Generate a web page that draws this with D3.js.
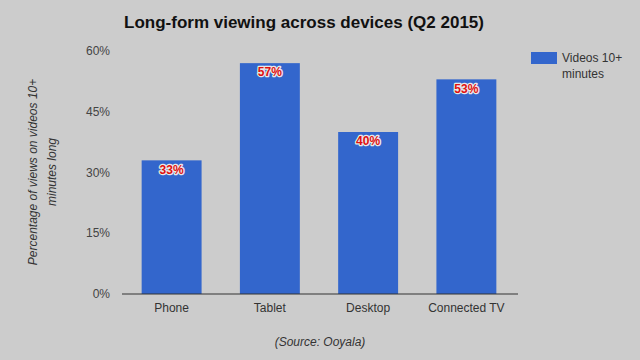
<!DOCTYPE html>
<html><head><meta charset="utf-8">
<script src="https://cdn.jsdelivr.net/npm/d3@7"></script>
<style>body{margin:0;background:#cccccc;}svg{display:block;font-family:"Liberation Sans",Arial,sans-serif;}</style>
</head><body><svg id="c" width="640" height="360"></svg>
<script>
const categories = ["Phone", "Tablet", "Desktop", "Connected TV"];
const values = [33, 57, 40, 53];
const yTicks = [0, 15, 30, 45, 60];
const seriesName = ["Videos 10+", "minutes"];

const svg = d3.select("#c");
svg.append("rect").attr("width",640).attr("height",360).attr("fill","#cccccc");

const x = d3.scaleBand().domain(categories).range([122,516]).paddingInner(0.39).paddingOuter(0.2);
const y = d3.scaleLinear().domain([0,60]).range([294,51]);

svg.append("text").attr("x",304).attr("y",28).attr("text-anchor","middle")
  .attr("font-size",17).attr("font-weight","bold").attr("fill","#111")
  .text("Long-form viewing across devices (Q2 2015)");

// y ticks
svg.append("g").selectAll("text").data(yTicks).join("text")
  .attr("x",110).attr("y",d=>y(d)).attr("dy","0.35em").attr("text-anchor","end")
  .attr("font-size",12).attr("fill","#444").text(d=>d+"%");

// bars
svg.append("g").selectAll("rect").data(values).join("rect")
  .attr("x",(d,i)=>x(categories[i])).attr("width",x.bandwidth())
  .attr("y",d=>y(d)).attr("height",d=>y(0)-y(d)).attr("fill","#3366cc");

// baseline
svg.append("line").attr("x1",122).attr("x2",518).attr("y1",y(0)).attr("y2",y(0))
  .attr("stroke","#333").attr("stroke-width",1);

// value labels
svg.append("g").selectAll("text").data(values).join("text")
  .attr("x",(d,i)=>x(categories[i])+x.bandwidth()/2).attr("y",d=>y(d)+9).attr("dy","0.35em")
  .attr("text-anchor","middle").attr("font-size",12).attr("font-weight","bold")
  .attr("fill","#e01010").attr("stroke","#e8e8e8").attr("stroke-width",2.5)
  .attr("paint-order","stroke").attr("stroke-linejoin","round")
  .text(d=>d+"%");

// x labels
svg.append("g").selectAll("text").data(categories).join("text")
  .attr("x",d=>x(d)+x.bandwidth()/2).attr("y",308).attr("dy","0.35em")
  .attr("text-anchor","middle").attr("font-size",12).attr("fill","#333").text(d=>d);

// y title
const yt = svg.append("text").attr("transform","translate(0,172) rotate(-90)")
  .attr("text-anchor","middle").attr("font-size",12).attr("font-style","italic").attr("fill","#333");
yt.append("tspan").attr("x",0).attr("y",37).text("Percentage of views on videos 10+");
yt.append("tspan").attr("x",0).attr("y",56).text("minutes long");

// legend
svg.append("rect").attr("x",531).attr("y",52).attr("width",26).attr("height",12).attr("fill","#3366cc");
svg.append("g").selectAll("text").data(seriesName).join("text")
  .attr("x",562).attr("y",(d,i)=>58+i*16).attr("dy","0.35em")
  .attr("font-size",12).attr("fill","#333").text(d=>d);

// source
svg.append("text").attr("x",320).attr("y",342).attr("dy","0.35em").attr("text-anchor","middle")
  .attr("font-size",12).attr("font-style","italic").attr("fill","#333").text("(Source: Ooyala)");
</script></body></html>
